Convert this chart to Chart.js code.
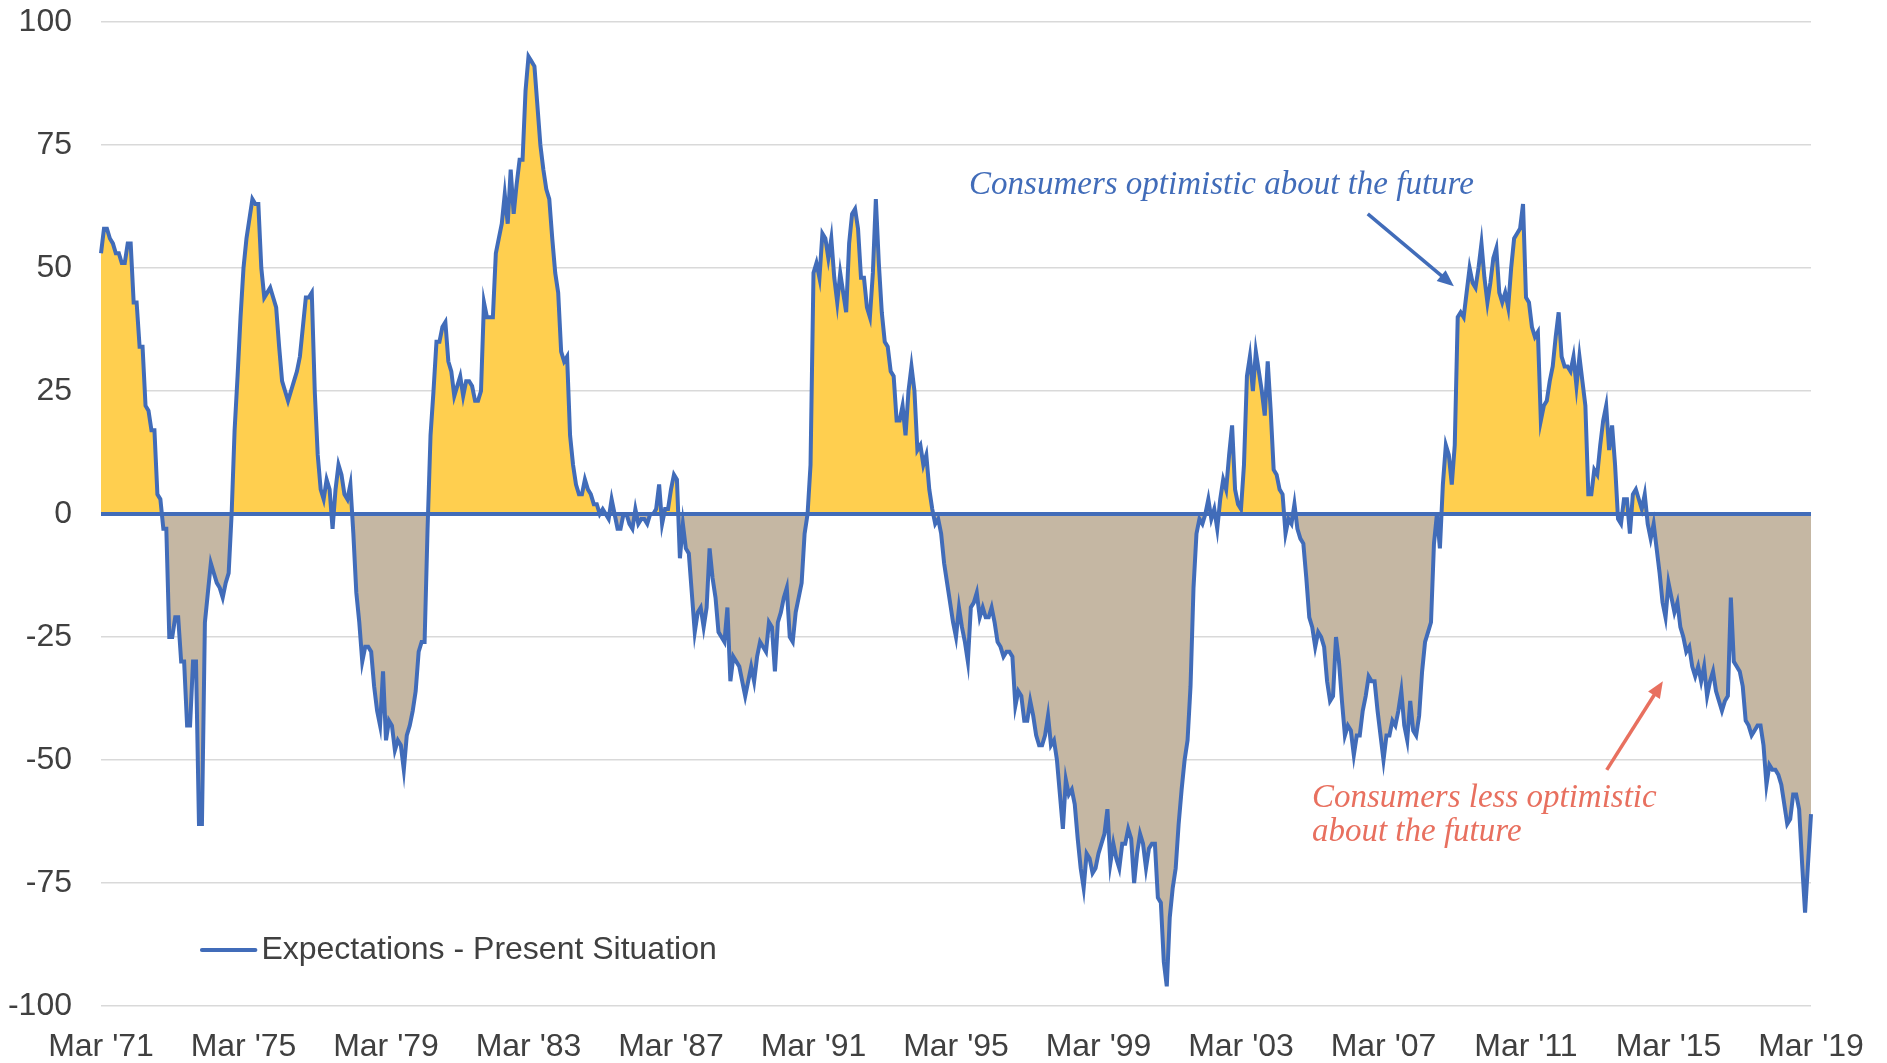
<!DOCTYPE html>
<html>
<head>
<meta charset="utf-8">
<script src="https://cdn.jsdelivr.net/npm/chart.js@4.4.0/dist/chart.umd.min.js"></script>
<style>
  html, body { margin: 0; padding: 0; background: #fff; }
  #wrap { width: 1887px; height: 1063px; position: relative; }
</style>
</head>
<body>
<div id="wrap"><canvas id="spreadChart"></canvas></div>
<script>
// Expectations minus Present Situation, monthly, Mar '71 .. Mar '19
const startYear = 1971;
const startMonth = 2; // March

const spread = [
  53, 58, 58, 56, 55, 53, 53, 51, 51, 55, 55, 43,
  43, 34, 34, 22, 21, 17, 17, 4, 3, -3, -3, -25,
  -25, -21, -21, -30, -30, -43, -43, -30, -30, -63, -63, -22,
  -16, -10, -12, -14, -15, -17, -14, -12, 0, 17, 28, 40,
  50, 56, 60, 64, 63, 63, 50, 44, 45, 46, 44, 42,
  34, 27, 25, 23, 25, 27, 29, 32, 38, 44, 44, 45,
  25, 12, 5, 3, 7, 5, -3, 5, 10, 8, 4, 3,
  6, -4, -16, -22, -30, -27, -27, -28, -35, -40, -43, -32,
  -46, -42, -43, -48, -46, -47, -52, -45, -43, -40, -36, -28,
  -26, -26, -3, 16, 25, 35, 35, 38, 39, 31, 29, 24,
  26, 28, 24, 27, 27, 26, 23, 23, 25, 43, 40, 40,
  40, 53, 56, 59, 65, 59, 70, 61, 67, 72, 72, 86,
  93, 92, 91, 83, 75, 70, 66, 64, 56, 49, 45, 33,
  31, 32, 16, 10, 6, 4, 4, 7, 5, 4, 2, 2,
  0, 1, 0, -1, 3, 0, -3, -3, 0, 0, -2, -3,
  1, -2, -1, -1, -2, 0, 0, 1, 6, -2, 1, 1,
  5, 8, 7, -9, -2, -7, -8, -16, -24, -20, -19, -23,
  -19, -7, -13, -17, -24, -25, -26, -19, -34, -29, -30, -31,
  -34, -37, -34, -31, -34, -29, -26, -27, -28, -22, -23, -32,
  -22, -20, -17, -15, -25, -26, -20, -17, -14, -4, 0, 10,
  49, 51, 48, 57, 56, 52, 56, 48, 43, 49, 45, 41,
  55, 61, 62, 58, 48, 48, 42, 40, 49, 64, 51, 41,
  35, 34, 29, 28, 19, 19, 22, 16, 25, 30, 25, 13,
  14, 10, 12, 5, 1, -2, -1, -4, -10, -14, -18, -22,
  -25, -19, -23, -26, -30, -19, -18, -16, -21, -19, -21, -21,
  -19, -22, -26, -27, -29, -28, -28, -29, -39, -36, -37, -42,
  -42, -38, -41, -45, -47, -47, -45, -41, -47, -46, -50, -57,
  -64, -54, -57, -56, -59, -66, -72, -76, -69, -70, -73, -72,
  -69, -67, -65, -60, -71, -67, -70, -72, -67, -67, -64, -66,
  -75, -69, -65, -67, -72, -68, -67, -67, -78, -79, -91, -96,
  -82, -76, -72, -63, -56, -50, -46, -35, -15, -4, -1, -2,
  0, 3, -1, 1, -3, 3, 7, 5, 12, 18, 5, 2,
  1, 10, 28, 32, 25, 33, 29, 25, 20, 31, 21, 9,
  8, 5, 4, -4, -1, -2, 2, -3, -5, -6, -13, -21,
  -23, -27, -24, -25, -27, -34, -38, -37, -25, -30, -38, -45,
  -43, -44, -49, -45, -45, -40, -37, -33, -34, -34, -40, -45,
  -50, -45, -45, -42, -43, -40, -36, -43, -46, -38, -44, -45,
  -41, -32, -26, -24, -22, -6, 0, -7, 6, 14, 12, 6,
  14, 40, 41, 40, 45, 50, 47, 46, 50, 55, 48, 43,
  47, 52, 54, 45, 43, 45, 42, 50, 56, 57, 58, 63,
  44, 43, 38, 36, 37, 19, 22, 23, 27, 30, 36, 41,
  32, 30, 30, 29, 32, 26, 32, 27, 22, 4, 4, 9,
  8, 14, 19, 22, 13, 18, 10, -1, -2, 3, 3, -4,
  4, 5, 3, 1, 4, -2, -5, -2, -7, -12, -18, -21,
  -14, -17, -20, -18, -23, -25, -28, -27, -31, -33, -31, -34,
  -31, -37, -34, -32, -36, -38, -40, -38, -37, -17, -30, -31,
  -32, -35, -42, -43, -45, -44, -43, -43, -47, -55, -51, -52,
  -52, -53, -55, -59, -63, -62, -57, -57, -60, -71, -81, -71,
  -61
];

const monthNames = ["Jan", "Feb", "Mar", "Apr", "May", "Jun",
                    "Jul", "Aug", "Sep", "Oct", "Nov", "Dec"];
const labels = spread.map((v, i) => {
  const m = startMonth + i;
  const yr = (startYear + Math.floor(m / 12)) % 100;
  return monthNames[m % 12] + " '" + String(yr).padStart(2, "0");
});
const zeroLine = spread.map(() => 0);
const tickEvery = 48; // a label every 4 years

const blue = "#416CB9";
const red = "#E8705F";
const textGrey = "#404040";
const sansFont = '"Liberation Sans", Arial, sans-serif';

// notes and arrows, placed in data units (month index, value)
const notes = [
  { text: "Consumers optimistic about the future", x: 292.4, y: 66.9, color: blue },
  { text: "Consumers less optimistic", x: 407.9, y: -57.7, color: red },
  { text: "about the future", x: 407.9, y: -64.8, color: red }
];
const arrows = [
  { from: [426.7, 61], to: [455.7, 46.3], color: blue },
  { from: [507.2, -52], to: [526.1, -34], color: red }
];
const legendSpot = { x0: 34, x1: 52, y: -88.6, text: "Expectations - Present Situation" };

const annotate = {
  id: "annotate",
  afterDraw(chart) {
    const { ctx, scales: { x, y } } = chart;
    ctx.save();
    // legend
    ctx.strokeStyle = blue;
    ctx.lineWidth = 4;
    ctx.lineCap = "round";
    ctx.beginPath();
    ctx.moveTo(x.getPixelForValue(legendSpot.x0), y.getPixelForValue(legendSpot.y));
    ctx.lineTo(x.getPixelForValue(legendSpot.x1), y.getPixelForValue(legendSpot.y));
    ctx.stroke();
    ctx.fillStyle = textGrey;
    ctx.font = "32px " + sansFont;
    ctx.textBaseline = "middle";
    ctx.textAlign = "left";
    ctx.fillText(legendSpot.text, x.getPixelForValue(legendSpot.x1) + 6, y.getPixelForValue(legendSpot.y));

    // notes
    ctx.font = 'italic 33px "Liberation Serif", "DejaVu Serif", serif';
    notes.forEach(n => {
      ctx.fillStyle = n.color;
      ctx.fillText(n.text, x.getPixelForValue(n.x), y.getPixelForValue(n.y));
    });

    // arrows
    arrows.forEach(a => {
      const x0 = x.getPixelForValue(a.from[0]), y0 = y.getPixelForValue(a.from[1]);
      const x1 = x.getPixelForValue(a.to[0]), y1 = y.getPixelForValue(a.to[1]);
      const ang = Math.atan2(y1 - y0, x1 - x0);
      const head = 18;
      ctx.strokeStyle = a.color;
      ctx.fillStyle = a.color;
      ctx.lineWidth = 3.5;
      ctx.lineCap = "butt";
      ctx.beginPath();
      ctx.moveTo(x0, y0);
      ctx.lineTo(x1 - Math.cos(ang) * head * 0.8, y1 - Math.sin(ang) * head * 0.8);
      ctx.stroke();
      ctx.beginPath();
      ctx.moveTo(x1, y1);
      ctx.lineTo(x1 - head * Math.cos(ang - 0.4), y1 - head * Math.sin(ang - 0.4));
      ctx.lineTo(x1 - head * Math.cos(ang + 0.4), y1 - head * Math.sin(ang + 0.4));
      ctx.closePath();
      ctx.fill();
    });
    ctx.restore();
  }
};

const spreadChart = document.getElementById("spreadChart");

new Chart(spreadChart, {
  type: "line",
  data: {
    labels: labels,
    datasets: [
      {
        label: "Expectations - Present Situation",
        data: spread,
        borderColor: blue,
        borderWidth: 4,
        pointRadius: 0,
        tension: 0,
        fill: { target: "origin", above: "#FFCF4F", below: "#C5B7A3" },
        order: 1,
      },
      {
        label: "zero",
        data: zeroLine,
        borderColor: blue,
        borderWidth: 4,
        pointRadius: 0,
        fill: false,
        order: 0,
      },
    ],
  },
  options: {
    responsive: true,
    maintainAspectRatio: false,
    animation: false,
    layout: { padding: { top: 22, right: 76, left: 0, bottom: 0 } },
    plugins: {
      legend: { display: false },
      tooltip: { enabled: false },
    },
    scales: {
      x: {
        offset: false,
        grid: { display: false },
        border: { display: false },
        ticks: {
          autoSkip: false,
          maxRotation: 0,
          padding: 14,
          color: textGrey,
          font: { family: sansFont, size: 32 },
          callback: function (val, i) {
            return i % tickEvery === 0 ? this.getLabelForValue(val) : null;
          },
        },
        afterFit: (scale) => {
          scale.height = 57;
          scale.paddingLeft = 0;
          scale.paddingRight = 0;
        },
      },
      y: {
        min: -100,
        max: 100,
        grid: { color: "#D9D9D9", lineWidth: 1.5, drawTicks: false },
        border: { display: false },
        ticks: {
          stepSize: 25,
          padding: 29,
          color: textGrey,
          font: { family: sansFont, size: 32 },
        },
        afterFit: (scale) => {
          scale.width = 101;
          scale.paddingTop = 0;
          scale.paddingBottom = 0;
        },
      },
    },
  },
  plugins: [annotate],
});
</script>
</body>
</html>
